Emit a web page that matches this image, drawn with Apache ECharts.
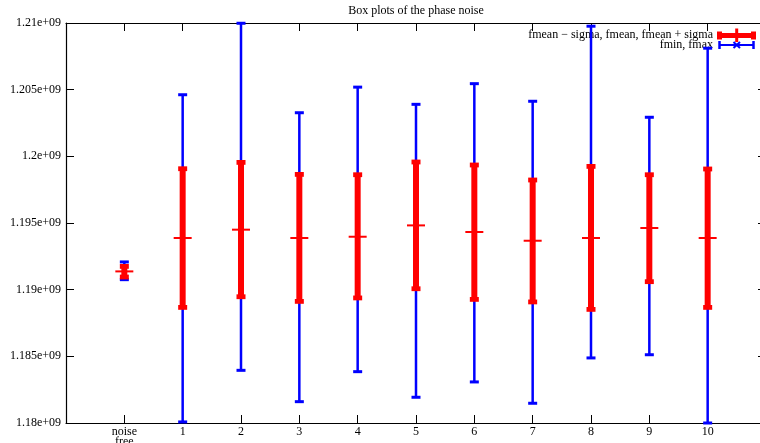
<!DOCTYPE html>
<html>
<head>
<meta charset="utf-8">
<script src="https://cdn.jsdelivr.net/npm/echarts@6/dist/echarts.min.js"></script>
<style>
html,body{margin:0;padding:0;background:#fff;}
#chart{width:760px;height:443px;}
</style>
</head>
<body>
<div id="chart"></div>
<script>
// ---- data ----
const categories = ['noise\nfree', '1', '2', '3', '4', '5', '6', '7', '8', '9', '10'];
const fMin = [1.19075e9, 1.18008e9, 1.18395e9, 1.1816e9, 1.18385e9, 1.18193e9, 1.18308e9, 1.18148e9, 1.18488e9, 1.18512e9, 1.18e9];
const fMax = [1.19208e9, 1.20462e9, 1.20998e9, 1.20327e9, 1.20519e9, 1.2039e9, 1.20545e9, 1.20413e9, 1.20976e9, 1.20293e9, 1.20811e9];
const fMeanMinusSigma = [1.19095e9, 1.18867e9, 1.18947e9, 1.18912e9, 1.18938e9, 1.19007e9, 1.18927e9, 1.18908e9, 1.18852e9, 1.1906e9, 1.18867e9];
const fMean = [1.19137e9, 1.193875e9, 1.1945e9, 1.193875e9, 1.19397e9, 1.19482e9, 1.194325e9, 1.19367e9, 1.193875e9, 1.194625e9, 1.193875e9];
const fMeanPlusSigma = [1.191745e9, 1.19907e9, 1.199545e9, 1.198645e9, 1.19862e9, 1.199575e9, 1.19935e9, 1.198225e9, 1.199245e9, 1.19862e9, 1.19905e9];
const yTickLabels = ['1.18e+09', '1.185e+09', '1.19e+09', '1.195e+09', '1.2e+09', '1.205e+09', '1.21e+09'];
const yMin = 1.18e9, yMax = 1.21e9, yStep = 5e6;
const titleText = 'Box plots of the phase noise';
const legendRed = 'fmean \u2212 sigma, fmean, fmean + sigma';
const legendBlue = 'fmin, fmax';

const FONT = '"Liberation Serif", "DejaVu Serif", serif';
const RED = '#ff0000', BLUE = '#0000ff';

const blueData = categories.map((c, i) => [i, fMin[i], fMax[i]]);
const redData = categories.map((c, i) => [i, fMeanMinusSigma[i], fMean[i], fMeanPlusSigma[i]]);

function xLabel(v) {
  const i = Math.round(v);
  return (i >= 0 && i < categories.length) ? categories[i] : '';
}

const chart = echarts.init(document.getElementById('chart'), null, {renderer: 'canvas'});

const axisLine = {show: true, onZero: false, lineStyle: {color: '#000', width: 1.2}};
const axisTick = {show: true, inside: true, length: 8, lineStyle: {color: '#000', width: 1}};

chart.setOption({
  backgroundColor: '#fff',
  animation: false,
  grid: {left: 66, width: 700, top: 23, height: 400, containLabel: false, outerBoundsMode: 'none'},
  xAxis: [
    {
      type: 'value', min: -1, max: 11, interval: 1, position: 'bottom',
      axisLine, axisTick, splitLine: {show: false},
      axisLabel: {
        formatter: xLabel, margin: 4, color: '#000', fontFamily: FONT, fontSize: 12, lineHeight: 10,
        showMinLabel: false, showMaxLabel: false
      }
    },
    {
      type: 'value', min: -1, max: 11, interval: 1, position: 'top',
      axisLine, axisTick, splitLine: {show: false}, axisLabel: {show: false}
    }
  ],
  yAxis: [
    {
      type: 'value', min: yMin, max: yMax, interval: yStep, position: 'left',
      axisLine, axisTick, splitLine: {show: false},
      axisLabel: {
        formatter: v => yTickLabels[Math.round((v - yMin) / yStep)],
        margin: 5, color: '#000', fontFamily: FONT, fontSize: 12
      }
    },
    {
      type: 'value', min: yMin, max: yMax, interval: yStep, position: 'right',
      axisLine, axisTick, splitLine: {show: false}, axisLabel: {show: false}
    }
  ],
  graphic: [
    {type: 'text', x: 416, y: 11, z: 0, style: {text: titleText, align: 'center', verticalAlign: 'middle', font: '12px ' + FONT, fill: '#000'}},
    {type: 'text', x: 713, y: 35, z: 0, style: {text: legendRed, align: 'right', verticalAlign: 'middle', font: '12px ' + FONT, fill: '#000'}},
    {type: 'text', x: 713, y: 45, z: 0, style: {text: legendBlue, align: 'right', verticalAlign: 'middle', font: '12px ' + FONT, fill: '#000'}},
    // red legend sample
    {type: 'line', z: 5, shape: {x1: 718, y1: 35.5, x2: 756, y2: 35.5}, style: {stroke: RED, lineWidth: 5}},
    {type: 'rect', z: 5, shape: {x: 717, y: 31.5, width: 5, height: 8}, style: {fill: RED}},
    {type: 'rect', z: 5, shape: {x: 751, y: 31.5, width: 5, height: 8}, style: {fill: RED}},
    {type: 'line', z: 5, shape: {x1: 736.7, y1: 28.5, x2: 736.7, y2: 42}, style: {stroke: RED, lineWidth: 3}},
    // blue legend sample
    {type: 'line', z: 5, shape: {x1: 719, y1: 45, x2: 754, y2: 45}, style: {stroke: BLUE, lineWidth: 2}},
    {type: 'line', z: 5, shape: {x1: 719.5, y1: 41, x2: 719.5, y2: 49}, style: {stroke: BLUE, lineWidth: 2.5}},
    {type: 'line', z: 5, shape: {x1: 753.5, y1: 41, x2: 753.5, y2: 49}, style: {stroke: BLUE, lineWidth: 2.5}},
    {type: 'line', z: 5, shape: {x1: 733.5, y1: 42, x2: 740, y2: 48}, style: {stroke: BLUE, lineWidth: 2}},
    {type: 'line', z: 5, shape: {x1: 733.5, y1: 48, x2: 740, y2: 42}, style: {stroke: BLUE, lineWidth: 2}}
  ],
  series: [
    {
      name: 'fmin, fmax', type: 'custom', clip: false, z: 3,
      data: blueData,
      encode: {x: 0, y: [1, 2]},
      renderItem(params, api) {
        const x = api.value(0);
        const lo = api.coord([x, api.value(1)]);
        const hi = api.coord([x, api.value(2)]);
        const st = {stroke: BLUE, lineWidth: 2.5};
        return {type: 'group', children: [
          {type: 'line', shape: {x1: lo[0], y1: lo[1], x2: hi[0], y2: hi[1]}, style: st},
          {type: 'line', shape: {x1: lo[0] - 4.5, y1: lo[1], x2: lo[0] + 4.5, y2: lo[1]}, style: {stroke: BLUE, lineWidth: 3}},
          {type: 'line', shape: {x1: hi[0] - 4.5, y1: hi[1], x2: hi[0] + 4.5, y2: hi[1]}, style: {stroke: BLUE, lineWidth: 3}}
        ]};
      }
    },
    {
      name: 'fmean - sigma, fmean, fmean + sigma', type: 'custom', clip: false, z: 4,
      data: redData,
      encode: {x: 0, y: [1, 2, 3]},
      renderItem(params, api) {
        const x = api.value(0);
        const lo = api.coord([x, api.value(1)]);
        const mid = api.coord([x, api.value(2)]);
        const hi = api.coord([x, api.value(3)]);
        return {type: 'group', children: [
          {type: 'rect', shape: {x: lo[0] - 3, y: hi[1], width: 6, height: lo[1] - hi[1]}, style: {fill: RED}},
          {type: 'rect', shape: {x: lo[0] - 4.5, y: lo[1] - 2.4, width: 9, height: 4.8}, style: {fill: RED}},
          {type: 'rect', shape: {x: hi[0] - 4.5, y: hi[1] - 2.4, width: 9, height: 4.8}, style: {fill: RED}},
          {type: 'line', shape: {x1: mid[0] - 9, y1: mid[1], x2: mid[0] + 9, y2: mid[1]}, style: {stroke: RED, lineWidth: 2}}
        ]};
      }
    }
  ]
});
</script>
</body>
</html>
